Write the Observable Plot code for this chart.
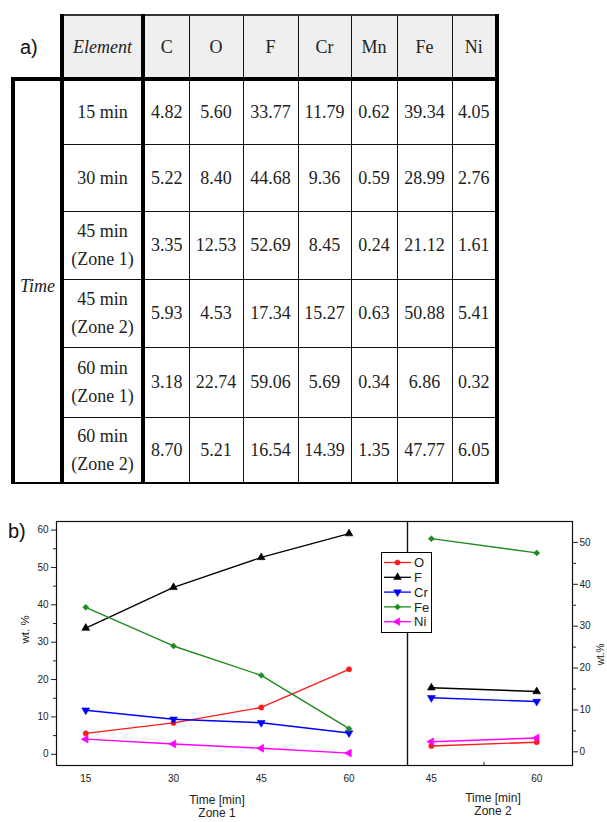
<!DOCTYPE html>
<html>
<head>
<meta charset="utf-8">
<script src="https://cdn.jsdelivr.net/npm/d3@7"></script>
<script src="https://cdn.jsdelivr.net/npm/@observablehq/plot@0.6"></script>
<style>
html, body { margin: 0; padding: 0; background: #fff; overflow: hidden; }
#root { position: relative; width: 607px; height: 822px; overflow: hidden; }
.panel-label { position: absolute; z-index: 5; font-family: "Liberation Sans", Arial, sans-serif; font-size: 20px; line-height: 20px; color: #111; }
table.eds { position: absolute; left: 11px; top: 14px; border-collapse: collapse; table-layout: fixed;
  font-family: "Liberation Serif", "Times New Roman", serif; font-size: 18px; color: #222; }
table.eds td { text-align: center; vertical-align: middle; padding: 0; border: 1.5px solid #111; white-space: pre-line; line-height: 28px; }
table.eds tr.head td { background: #efefef; border-top: 2px solid #333; border-bottom: 4px solid #000; }
table.eds td.corner { background: transparent !important; border: none !important; border-bottom: 4px solid #000 !important; }
table.eds td.thickL { border-left: 4px solid #000; }
table.eds td.thickR { border-right: 4px solid #000; }
table.eds td.time { border-left: 4px solid #000; border-top: 4px solid #000; border-bottom: 2px solid #000; font-style: italic; padding-top: 8px; }
table.eds td.ital { font-style: italic; }
table.eds tr.last td { border-bottom: 2px solid #000; }
.plotwrap { position: absolute; top: 500px; }
#legend { position: absolute; left: 381px; top: 552px; width: 49px; height: 79px; border: 1px solid #000; background: #fff; }
</style>
</head>
<body>
<div id="root"></div>
<script>
// ---------- Table data (panel a) ----------
const elements = ["C", "O", "F", "Cr", "Mn", "Fe", "Ni"];
const timeRows = ["15 min", "30 min", "45 min\n(Zone 1)", "45 min\n(Zone 2)", "60 min\n(Zone 1)", "60 min\n(Zone 2)"];
const valC  = [4.82, 5.22, 3.35, 5.93, 3.18, 8.70];
const valO  = [5.60, 8.40, 12.53, 4.53, 22.74, 5.21];
const valF  = [33.77, 44.68, 52.69, 17.34, 59.06, 16.54];
const valCr = [11.79, 9.36, 8.45, 15.27, 5.69, 14.39];
const valMn = [0.62, 0.59, 0.24, 0.63, 0.34, 1.35];
const valFe = [39.34, 28.99, 21.12, 50.88, 6.86, 47.77];
const valNi = [4.05, 2.76, 1.61, 5.41, 0.32, 6.05];

// ---------- Chart data (panel b) ----------
const seriesNames = ["O", "F", "Cr", "Fe", "Ni"];
const zone1Time = [15, 30, 45, 60];
const z1O  = [5.60, 8.40, 12.53, 22.74];
const z1F  = [33.77, 44.68, 52.69, 59.06];
const z1Cr = [11.79, 9.36, 8.45, 5.69];
const z1Fe = [39.34, 28.99, 21.12, 6.86];
const z1Ni = [4.05, 2.76, 1.61, 0.32];
const zone2Time = [45, 60];
const z2O  = [1.4, 2.3];
const z2F  = [15.3, 14.4];
const z2Cr = [12.9, 12.0];
const z2Fe = [50.9, 47.5];
const z2Ni = [2.4, 3.3];
const leftTicks = [0, 10, 20, 30, 40, 50, 60];
const leftMinor = [5, 15, 25, 35, 45, 55];
const rightTicks = [0, 10, 20, 30, 40, 50];
const rightMinor = [5, 15, 25, 35, 45];
const zone2Minor = [52.5];

// ---------- styles ----------
const seriesColors = {O: "#ff1a1a", F: "#000000", Cr: "#0000ff", Fe: "#1f8a1f", Ni: "#ff00ff"};
function tri(dir) {
  return {draw(ctx, size) {
    const s = Math.sqrt(size * 4 / Math.sqrt(3)), h = s * Math.sqrt(3) / 2;
    if (dir === "up") { ctx.moveTo(0, -2*h/3); ctx.lineTo(s/2, h/3); ctx.lineTo(-s/2, h/3); }
    else if (dir === "down") { ctx.moveTo(0, 2*h/3); ctx.lineTo(s/2, -h/3); ctx.lineTo(-s/2, -h/3); }
    else { ctx.moveTo(-2*h/3, 0); ctx.lineTo(h/3, -s/2); ctx.lineTo(h/3, s/2); }
    ctx.closePath();
  }};
}
const seriesSymbols = {O: d3.symbolCircle, F: tri("up"), Cr: tri("down"), Fe: d3.symbolDiamond2, Ni: tri("left")};
const seriesR = {O: 2.6, F: 2.9, Cr: 2.9, Fe: 2.7, Ni: 2.9};

const root = document.getElementById("root");

// ---------- panel labels ----------
const la = document.createElement("div"); la.className = "panel-label"; la.textContent = "a)";
la.style.left = "20px"; la.style.top = "37px"; root.appendChild(la);
const lb = document.createElement("div"); lb.className = "panel-label"; lb.textContent = "b)";
lb.style.left = "8px"; lb.style.top = "521px"; root.appendChild(lb);

// ---------- table ----------
const colWidths = [49, 81, 46, 54, 55, 53, 46, 55, 45];
const rowHeights = [64, 65, 67, 68, 68, 70, 66];
const columns = [valC, valO, valF, valCr, valMn, valFe, valNi];
const table = d3.select(root).append("table").attr("class", "eds");
const cg = table.append("colgroup");
colWidths.forEach(w => cg.append("col").style("width", w + "px"));
const head = table.append("tr").attr("class", "head").style("height", rowHeights[0] + "px");
head.append("td").attr("class", "corner");
head.append("td").attr("class", "thickL thickR ital").text("Element");
elements.forEach((e, i) => head.append("td").attr("class", i === elements.length - 1 ? "thickR" : null).text(e));
timeRows.forEach((label, r) => {
  const tr = table.append("tr").attr("class", r === timeRows.length - 1 ? "last" : null).style("height", rowHeights[r + 1] + "px");
  if (r === 0) tr.append("td").attr("class", "time").attr("rowspan", timeRows.length).text("Time");
  tr.append("td").attr("class", "thickL thickR").text(label);
  columns.forEach((col, c) => tr.append("td").attr("class", c === columns.length - 1 ? "thickR" : null).text(col[r].toFixed(2)));
});

// ---------- chart ----------
function rowsFor(times, arrays) {
  return seriesNames.flatMap((n, k) => times.map((t, i) => ({el: n, t, v: arrays[k][i]})));
}
const rows1 = rowsFor(zone1Time, [z1O, z1F, z1Cr, z1Fe, z1Ni]);
const rows2 = rowsFor(zone2Time, [z2O, z2F, z2Cr, z2Fe, z2Ni]);

function seriesMarks(rows) {
  const out = [];
  seriesNames.forEach(n => {
    const d = rows.filter(r => r.el === n);
    out.push(Plot.line(d, {x: "t", y: "v", stroke: seriesColors[n], strokeWidth: 1.4}));
  });
  seriesNames.forEach(n => {
    const d = rows.filter(r => r.el === n);
    out.push(Plot.dot(d, {x: "t", y: "v", symbol: seriesSymbols[n], r: seriesR[n], fill: seriesColors[n], stroke: seriesColors[n], strokeWidth: 0.6}));
  });
  return out;
}

const commonStyle = {background: "transparent", fontFamily: "'Liberation Sans', Arial, sans-serif", fontSize: "10px", color: "#222", overflow: "visible"};

const plot1 = Plot.plot({
  width: 407, height: 322,
  marginLeft: 56, marginRight: 0, marginTop: 21, marginBottom: 57,
  style: commonStyle,
  x: {domain: [10, 70]},
  y: {domain: [-3.0, 62.3]},
  marks: [
    Plot.axisX(zone1Time, {tickSize: 0, tickPadding: 9, label: null}),
    Plot.axisY(leftTicks, {tickSize: 5, tickPadding: 3, label: null}),
    Plot.axisY(leftMinor, {tickSize: 3, tickFormat: () => "", label: null}),
    ...seriesMarks(rows1),
    Plot.frame({stroke: "#111", strokeWidth: 1.2}),
    Plot.text(["Time [min]\nZone 1"], {text: d => d, frameAnchor: "bottom", lineAnchor: "top", dy: 30, dx: -15, lineHeight: 1.05, fontSize: 12, fill: "#222"}),
    Plot.text(["wt. %"], {text: d => d, frameAnchor: "left", dx: -31, rotate: -90, fontSize: 11.5, fill: "#222"})
  ]
});

const plot2 = Plot.plot({
  width: 200, height: 322,
  marginLeft: 0, marginRight: 35, marginTop: 21, marginBottom: 57,
  style: commonStyle,
  x: {domain: [41.6, 65.1]},
  y: {domain: [-3.27, 55.0]},
  marks: [
    Plot.axisX(zone2Time, {tickSize: 0, tickPadding: 9, label: null}),
    Plot.axisX(zone2Minor, {tickSize: -3, tickFormat: () => "", label: null}),
    Plot.axisY(rightTicks, {anchor: "right", tickSize: 5, tickPadding: 2, label: null}),
    Plot.axisY(rightMinor, {anchor: "right", tickSize: 3, tickFormat: () => "", label: null}),
    ...seriesMarks(rows2),
    Plot.frame({stroke: "#111", strokeWidth: 1.2}),
    Plot.text(["Time [min]\nZone 2"], {text: d => d, frameAnchor: "bottom", lineAnchor: "top", dy: 28, dx: 3, lineHeight: 1.05, fontSize: 12, fill: "#222"}),
    Plot.text(["wt.%"], {text: d => d, frameAnchor: "right", dx: 28, rotate: -90, fontSize: 10, fill: "#222"})
  ]
});

const w1 = document.createElement("div"); w1.className = "plotwrap"; w1.style.left = "0px"; w1.appendChild(plot1); root.appendChild(w1);
const w2 = document.createElement("div"); w2.className = "plotwrap"; w2.style.left = "407px"; w2.appendChild(plot2); root.appendChild(w2);

// ---------- legend ----------
const leg = d3.select(root).append("div").attr("id", "legend");
const lsvg = leg.append("svg").attr("width", 49).attr("height", 79).style("display", "block");
seriesNames.forEach((n, i) => {
  const y = 9.5 + i * 14.8;
  lsvg.append("line").attr("x1", 2).attr("x2", 29).attr("y1", y).attr("y2", y).attr("stroke", seriesColors[n]).attr("stroke-width", 1.3);
  lsvg.append("path").attr("transform", `translate(15.5,${y})`)
    .attr("d", d3.symbol(seriesSymbols[n], Math.PI * seriesR[n] * seriesR[n])())
    .attr("fill", seriesColors[n]).attr("stroke", seriesColors[n]).attr("stroke-width", 0.5);
  lsvg.append("text").attr("x", 32).attr("y", y).attr("dy", "0.36em")
    .attr("font-family", "'Liberation Sans', Arial, sans-serif").attr("font-size", 13).attr("fill", "#222").text(n);
});
</script>
</body>
</html>
